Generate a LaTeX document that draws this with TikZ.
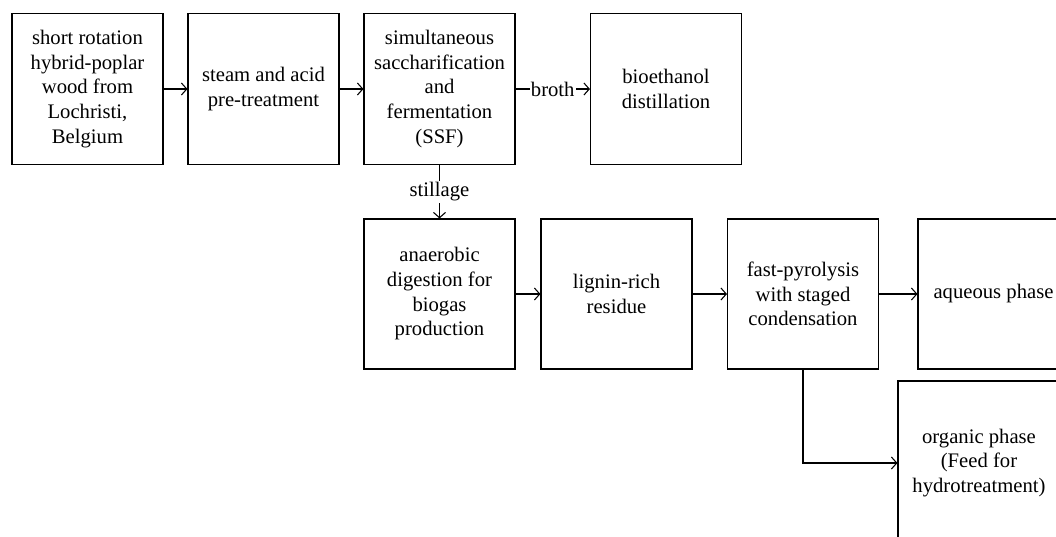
\documentclass[tikz,border=0pt]{standalone}
\usepackage{fontspec}
\setmainfont{Liberation Serif}
\usetikzlibrary{arrows.meta}
\begin{document}
\begin{tikzpicture}[x=0.75pt,y=-0.75pt,
  box/.style={draw, line width=0.8pt, minimum width=113.25pt, minimum height=113.5pt, inner sep=0pt, align=center, font=\fontsize{15.5}{18.5}\selectfont},
  conn/.style={line width=0.8pt, -{Straight Barb[length=4pt,width=9pt,line width=0.8pt]}},
  lbl/.style={fill=white, inner sep=1pt, font=\fontsize{15.5}{18.5}\selectfont}]
\useasboundingbox (0,0) rectangle (1056,536);
\clip (0,0) rectangle (1056,536);
\node[box] (wood) at (87.5,89) {short rotation\\hybrid-poplar\\wood from\\Lochristi,\\Belgium};
\node[box] (steam) at (263.5,89) {steam and acid\\pre-treatment};
\node[box] (ssf) at (439.5,89) {simultaneous\\saccharification\\and\\fermentation\\(SSF)};
\node[box] (bio) at (666,89) {bioethanol\\distillation};
\node[box, minimum height=112.5pt] (ana) at (439.5,294) {anaerobic\\digestion for\\biogas\\production};
\node[box, minimum height=112.5pt] (lig) at (616.5,294) {lignin-rich\\residue};
\node[box, minimum height=112.5pt] (fast) at (803,294) {fast-pyrolysis\\with staged\\condensation};
\node[box, minimum height=112.5pt] (aq) at (993.5,294) {aqueous phase};
\node[box, minimum width=121.5pt, minimum height=123pt] (org) at (979,463) {organic phase\\(Feed for\\hydrotreatment)};
\draw[conn] (wood) -- (steam);
\draw[conn] (steam) -- (ssf);
\draw[conn] (ssf) -- node[lbl] {broth} (bio);
\draw[conn] (ssf) -- node[lbl] {stillage} (ana);
\draw[conn] (ana) -- (lig);
\draw[conn] (lig) -- (fast);
\draw[conn] (fast) -- (fast -| aq.west);
\draw[conn] (fast.south) |- (org.west);
\end{tikzpicture}
\end{document}
